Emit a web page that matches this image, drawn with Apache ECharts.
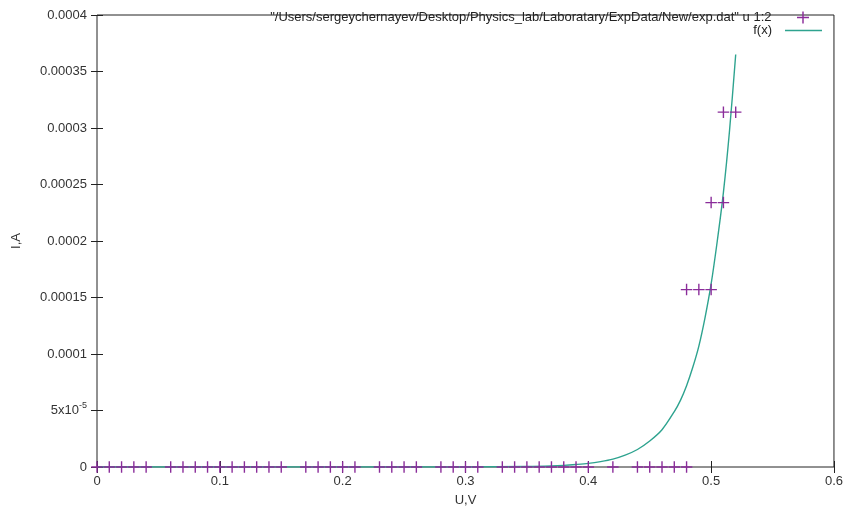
<!DOCTYPE html>
<html>
<head>
<meta charset="utf-8">
<script src="https://cdn.jsdelivr.net/npm/echarts@6/dist/echarts.min.js"></script>
<style>html,body{margin:0;padding:0;background:#fff}#c{width:846px;height:513px}</style>
</head>
<body>
<div id="c"></div>
<script>
// ---- data ----
var scatterX = [0,0.01,0.02,0.03,0.04,0.06,0.07,0.08,0.09,0.10,0.11,0.12,0.13,0.14,0.15,0.17,0.18,0.19,0.20,0.21,0.23,0.24,0.25,0.26,0.28,0.29,0.30,0.31,0.33,0.34,0.35,0.36,0.37,0.38,0.39,0.40,0.42,0.44,0.45,0.46,0.47,0.48,0.48,0.49,0.50,0.50,0.51,0.51,0.52];
var scatterY = [0,0,0,0,0,0,0,0,0,0,0,0,0,0,0,0,0,0,0,0,0,0,0,0,0,0,0,0,0,0,0,0,0,0,0,0,0,0,0,0,0,0,0.000157,0.000157,0.000157,0.000234,0.000234,0.000314,0.000314];
var curveX = [0,0.1,0.2,0.3,0.35,0.37,0.38,0.39,0.40,0.41,0.42,0.43,0.44,0.45,0.46,0.47,0.475,0.48,0.485,0.49,0.495,0.50,0.505,0.51,0.515,0.52];
var curveY = [0,0,0,0.00000005,0.0000004,0.0000009,0.0000014,0.0000022,0.0000032,0.0000048,0.000007,0.0000105,0.0000155,0.000023,0.000033,0.000049,0.000059,0.000072,0.000088,0.000107,0.000132,0.000162,0.0002,0.000243,0.000298,0.000365];
var xTicks = [0,0.1,0.2,0.3,0.4,0.5,0.6];
var yTickLabels = ['0','5x10{sup|-5}','0.0001','0.00015','0.0002','0.00025','0.0003','0.00035','0.0004'];
var seriesNames = ['"/Users/sergeychernayev/Desktop/Physics_lab/Laboratary/ExpData/New/exp.dat" u 1:2','f(x)'];

var purple = '#8a2c9a';
var teal = '#2ea38f';
var txt = '#333';
var font = 'Liberation Sans, Arial, sans-serif';
var fs = 13;

var chart = echarts.init(document.getElementById('c'));
var plus = 'path://M0,4.4 H4.4 V0 H5.6 V4.4 H10 V5.6 H5.6 V10 H4.4 V5.6 H0 Z';
var tickStyle = {show:true, inside:true, length:6, lineStyle:{color:'#222', width:1}};
chart.setOption({
  animation:false,
  backgroundColor:'#fff',
  textStyle:{fontFamily:font},
  grid:{left:97, right:9, top:15, bottom:46, show:true, borderColor:'#222', borderWidth:1},
  legend:[
    {data:[seriesNames[0]], right:37, top:11, align:'right', itemWidth:37, itemHeight:12, padding:0,
     textStyle:{color:'#222', fontSize:fs, fontFamily:font, padding:[0,8,0,0]}},
    {data:[{name:seriesNames[1], icon:'rect'}], right:24, top:24, align:'right', itemWidth:37, itemHeight:1.5, padding:0,
     textStyle:{color:'#222', fontSize:fs, fontFamily:font, padding:[0,8,0,0]}}
  ],
  xAxis:[
    {type:'value', min:xTicks[0], max:xTicks[xTicks.length-1], interval:0.1, position:'bottom',
     name:'U,V', nameLocation:'middle', nameGap:27, nameTextStyle:{color:txt, fontSize:fs},
     axisLine:{show:false}, axisTick:tickStyle, splitLine:{show:false},
     axisLabel:{color:txt, fontSize:fs, margin:8, formatter:function(v){return String(+v.toFixed(2));}}},
    {type:'value', min:xTicks[0], max:xTicks[xTicks.length-1], interval:0.1, position:'top',
     axisLine:{show:false}, axisTick:tickStyle, splitLine:{show:false}, axisLabel:{show:false}}
  ],
  yAxis:[
    {type:'value', min:0, max:0.0004, interval:0.00005, position:'left',
     name:'I,A', nameLocation:'middle', nameGap:74, nameRotate:90, nameTextStyle:{color:txt, fontSize:fs},
     axisLine:{show:false}, axisTick:tickStyle, splitLine:{show:false},
     axisLabel:{color:txt, fontSize:fs, margin:10,
       formatter:function(v){return yTickLabels[Math.round(v/0.00005)];},
       rich:{sup:{fontSize:9, color:txt, padding:[0,0,9,0]}}}},
    {type:'value', min:0, max:0.0004, interval:0.00005, position:'right',
     axisLine:{show:false}, axisTick:tickStyle, splitLine:{show:false}, axisLabel:{show:false}}
  ],
  series:[
    {name:seriesNames[0], type:'scatter', symbol:plus, symbolSize:11.5,
     itemStyle:{color:purple, opacity:1},
     data:scatterX.map(function(x,i){return [x, scatterY[i]];}), z:3},
    {name:seriesNames[1], type:'line', symbol:'none', smooth:0.3,
     lineStyle:{color:teal, width:1.4}, itemStyle:{color:teal},
     data:curveX.map(function(x,i){return [x, curveY[i]];}), z:2}
  ]
});
</script>
</body>
</html>
